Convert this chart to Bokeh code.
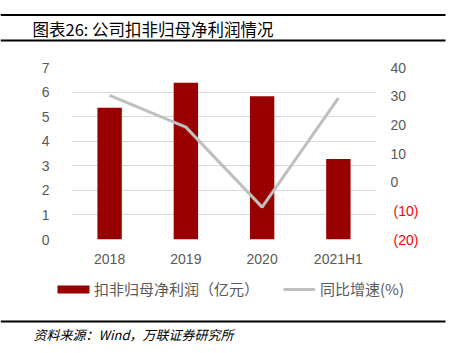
from bokeh.plotting import figure
from bokeh.layouts import column
from bokeh.models import (Range1d, LinearAxis, FixedTicker, Label, BoxAnnotation,
                          Legend, LegendItem, ColumnDataSource, FactorRange,
                          CustomJSTickFormatter)
from bokeh.embed import file_html
from bokeh.resources import INLINE

categories = ["2018", "2019", "2020", "2021H1"]
profit = [5.36, 6.38, 5.83, 3.28]          # 扣非归母净利润（亿元）
growth = [30.3, 19.2, -8.7, 29.3]          # 同比增速(%)
left_ticks = [0, 1, 2, 3, 4, 5, 6, 7]
right_ticks = [0, 10, 20, 30, 40]
neg_ticks = [-10, -20]

title_text = "图表26: 公司扣非归母净利润情况"
source_text = "资料来源：Wind，万联证券研究所"
bar_name = "扣非归母净利润（亿元）"
line_name = "同比增速(%)"

W = 449
HH, CH, FH = 45, 225, 83          # header / chart / footer heights
FL, FR = 71, 376                  # frame left / right (px)
FT, FB = 22, 194                  # frame top / bottom inside chart figure

CJK = "Noto Sans CJK SC"
NUM = "Liberation Sans"
GRAY = "#595959"
RED = "#990000"
LGRAY = "#BFBFBF"


def blank(h):
    f = figure(width=W, height=h, x_range=Range1d(0, W), y_range=Range1d(h, 0),
               x_axis_type=None, y_axis_type=None, output_backend="svg",
               toolbar_location=None, min_border=0, frame_align=False)
    f.outline_line_color = None
    f.grid.visible = False
    f.background_fill_color = "white"
    f.border_fill_color = "white"
    return f


def rule(f, y0, y1, x0=0, x1=445):
    f.add_layout(BoxAnnotation(left=x0, right=x1, top=y0, bottom=y1,
                               fill_color="black", fill_alpha=1,
                               line_color=None))


src = ColumnDataSource(dict(cat=categories, profit=profit, growth=growth))

# ---------- header ----------
head = blank(HH)
rule(head, 13.5, 15.5)
rule(head, 39, 41)
head.add_layout(Label(x=32, y=28, text=title_text, text_font=CJK,
                      text_font_size="16.5px", text_color="black",
                      text_baseline="middle", text_align="left"))

# ---------- chart ----------
p = figure(width=W, height=CH, x_range=FactorRange(*categories, range_padding=0),
           y_range=Range1d(0, 7), output_backend="svg", toolbar_location=None,
           min_border_left=FL, min_border_right=W - FR, min_border_top=FT,
           min_border_bottom=CH - FB, frame_align=False)
p.outline_line_color = None
p.background_fill_color = "white"
p.border_fill_color = "white"
p.extra_y_ranges = {"pct": Range1d(-20, 40)}

bars = p.vbar(x="cat", top="profit", width=0.32, source=src,
              fill_color=RED, line_color=None)
line = p.line(x="cat", y="growth", source=src, line_color=LGRAY,
              line_width=3, y_range_name="pct")


def style_axis(ax, color=GRAY):
    ax.axis_line_color = None
    ax.major_tick_line_color = None
    ax.minor_tick_line_color = None
    ax.major_tick_out = 0
    ax.major_tick_in = 0
    ax.major_label_text_font = NUM
    ax.major_label_text_font_size = "14px"
    ax.major_label_text_color = color


yax = p.yaxis[0]
yax.ticker = FixedTicker(ticks=left_ticks)
xax = p.xaxis[0]
style_axis(yax)
style_axis(xax)
yax.major_label_standoff = 22
xax.major_label_standoff = 11

rax = LinearAxis(y_range_name="pct", ticker=FixedTicker(ticks=right_ticks))
style_axis(rax)
rax.major_label_standoff = 14
p.add_layout(rax, "right")

rax2 = LinearAxis(y_range_name="pct", ticker=FixedTicker(ticks=neg_ticks),
                  formatter=CustomJSTickFormatter(code="return '(' + Math.abs(tick) + ')'"))
style_axis(rax2, "#FF0000")
rax2.major_label_standoff = -16
p.add_layout(rax2, "right")

p.xgrid.grid_line_color = None
p.ygrid.ticker = FixedTicker(ticks=left_ticks)
p.ygrid.grid_line_color = "#D9D9D9"
p.ygrid.grid_line_width = 1

# ---------- footer ----------
foot = blank(FH)
# legend proxies (hidden) carrying the same styles as the chart's renderers
lb = foot.vbar(x="cat", top="profit", width=0.32, source=src,
               fill_color=RED, line_color=None, visible=False)
ll = foot.line(x="cat", y="growth", source=src, line_color=LGRAY,
               line_width=3, visible=False)

leg_common = dict(orientation="horizontal", glyph_height=10, label_height=20,
                  padding=0, margin=0, spacing=0, border_line_color=None,
                  background_fill_alpha=0, label_text_font=CJK,
                  label_text_font_size="15px", label_text_color=GRAY,
                  inactive_fill_alpha=0)
leg1 = Legend(items=[LegendItem(label=bar_name, renderers=[lb])],
              location=(53, FH - 29), glyph_width=40, label_standoff=1,
              **leg_common)
leg2 = Legend(items=[LegendItem(label=line_name, renderers=[ll])],
              location=(283, FH - 29), glyph_width=32, label_standoff=5,
              **leg_common)
foot.add_layout(leg1, "center")
foot.add_layout(leg2, "center")

rule(foot, 50, 52)
foot.add_layout(Label(x=33, y=64, text=source_text, text_font=CJK,
                      text_font_size="13px", text_font_style="italic",
                      text_color="black", text_baseline="middle",
                      text_align="left"))

layout = column(head, p, foot, spacing=0)
open("out.html", "w").write(file_html(layout, INLINE))
